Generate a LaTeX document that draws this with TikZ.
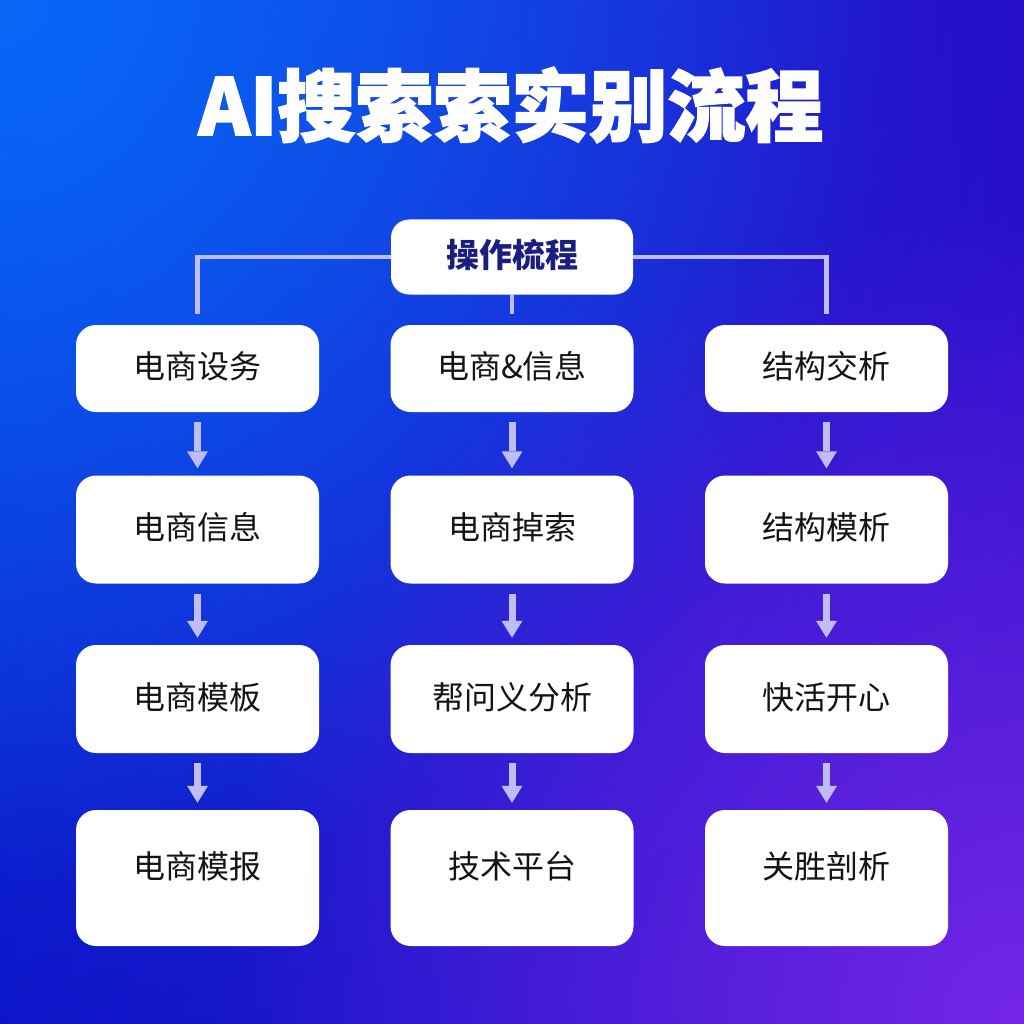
\documentclass[tikz,border=0pt]{standalone}
\usepackage{fontspec}
\setmainfont{Noto Sans CJK SC}
\newfontfamily\titlefont[FakeBold=2.2]{Noto Sans CJK SC}
\usetikzlibrary{arrows.meta, positioning, shadings, fadings}
\definecolor{bgtl}{RGB}{14,64,228}
\definecolor{bgtr}{RGB}{38,14,200}
\definecolor{bgbl}{RGB}{12,22,200}
\definecolor{bgbr}{RGB}{48,18,204}
\definecolor{glowtl}{RGB}{8,104,246}
\definecolor{glowbr}{RGB}{116,38,230}
\definecolor{linkcol}{RGB}{192,188,248}
\definecolor{navy}{RGB}{26,30,128}
\definecolor{ink}{RGB}{20,20,24}
\tikzfading[name = glow, inner color = transparent!0, outer color = transparent!100]
\tikzset{x = 1pt, y = -1pt,
         node distance = 314.5pt, on grid,
         >= {Triangle[width = 21pt, length = 17pt, line width = 0pt]},
         card/.style = {rectangle, rounded corners = 20pt, fill = white,
                        minimum width = 243pt, minimum height = 87pt,
                        inner sep = 0pt, text = ink,
                        font = \fontsize{32}{32}\selectfont,
                        text height = 24pt, text depth = 4pt},
         tallcard/.style = {card, minimum height = 108pt},
         lastcard/.style = {card, minimum height = 136pt, text depth = 24pt},
         headcard/.style = {card, minimum width = 242pt, minimum height = 75pt,
                            rounded corners = 18pt, text = navy,
                            font = \bfseries\fontsize{33}{33}\selectfont},
         link/.style = {draw, color = linkcol, line width = 4.5pt, shorten > = 11pt},
         flow/.style = {draw, color = linkcol, line width = 7pt, ->,
                        shorten < = 10pt, shorten > = 7pt}}
\begin{document}
\begin{tikzpicture}
        \useasboundingbox (0,0) rectangle (1024,1024);
        % background
        \begin{scope}
          \clip (0,0) rectangle (1024,1024);
          \shade[upper left = bgtl, upper right = bgtr,
                 lower left = bgbl, lower right = bgbr] (0,0) rectangle (1024,1024);
          \fill[glowtl, path fading = glow] (0,0) circle (900);
          \fill[glowbr, path fading = glow] (1024,1024) circle (820);
        \end{scope}

        \node[text = white, font = \titlefont\bfseries\fontsize{78}{78}\selectfont]
                                  (title) at (511,105)   {AI搜索索实别流程};

        \node[headcard]            (head)  at (512,257)   {操作梳程};

        \node[card]                (a1)    at (197.5,368.5) {电商设务};
        \node[card]                (b1) [right = of a1]   {电商\&信息};
        \node[card]                (c1) [right = of b1]   {结构交析};

        \node[tallcard]            (a2) [below = 161pt of a1] {电商信息};
        \node[tallcard]            (b2) [right = of a2]   {电商掉索};
        \node[tallcard]            (c2) [right = of b2]   {结构模析};

        \node[tallcard]            (a3) [below = 169.5pt of a2] {电商模板};
        \node[tallcard]            (b3) [right = of a3]   {帮问义分析};
        \node[tallcard]            (c3) [right = of b3]   {快活开心};

        \node[lastcard]            (a4) [below = 179pt of a3] {电商模报};
        \node[lastcard]            (b4) [right = of a4]   {技术平台};
        \node[lastcard]            (c4) [right = of b4]   {关胜剖析};

        % fork from the head card
        \draw[link] (head.west)  -| (a1.north);
        \draw[link] (head.south) -- (b1.north);
        \draw[link] (head.east)  -| (c1.north);

        \path[flow] (a1) edge (a2)  (a2) edge (a3)  (a3) edge (a4);
        \path[flow] (b1) edge (b2)  (b2) edge (b3)  (b3) edge (b4);
        \path[flow] (c1) edge (c2)  (c2) edge (c3)  (c3) edge (c4);
      \end{tikzpicture}
\end{document}
